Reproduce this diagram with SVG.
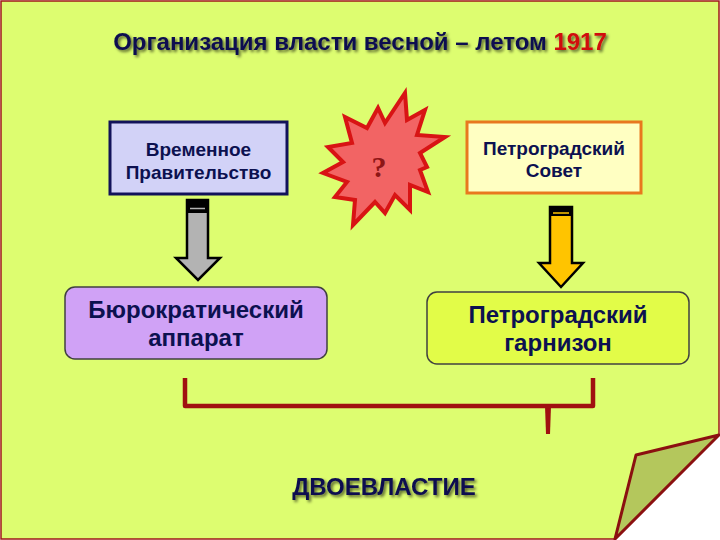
<svg xmlns="http://www.w3.org/2000/svg" width="720" height="540" viewBox="0 0 720 540">
<defs>
<style>
.t{font-family:"Liberation Sans",Arial,sans-serif;font-weight:bold;fill:#0C1150;text-anchor:middle}
.box{font-size:19px}
.big{font-size:24px}
.arr{stroke:#000;stroke-width:2.5;stroke-linejoin:miter}
</style>
<filter id="sh" x="-10%" y="-30%" width="120%" height="160%">
<feGaussianBlur in="SourceAlpha" stdDeviation="1.8"/>
<feOffset dx="1.5" dy="1.5" result="b"/>
<feFlood flood-color="#000" flood-opacity="0.6"/>
<feComposite in2="b" operator="in"/>
<feMerge><feMergeNode/><feMergeNode in="SourceGraphic"/></feMerge>
</filter>
</defs>
<rect width="720" height="540" fill="#fff"/>
<polygon points="1,1 719,1 719,435 615,539 1,539" fill="#DDFD70" stroke="#A01818" stroke-width="1.5"/>
<polygon points="719,435 636,455 615,539" fill="#B4C75C" stroke="#8B1010" stroke-width="3" stroke-linejoin="round"/>

<g id="title" filter="url(#sh)">
<text class="t" x="360" y="50" style="font-size:24px">Организация власти весной – летом <tspan fill="#D01010">1917</tspan></text>
</g>

<g id="vp">
<rect x="110" y="122" width="177" height="72" fill="#D2D2F7" stroke="#12125A" stroke-width="3"/>
<text class="t box" x="198.5" y="156">Временное</text>
<text class="t box" x="198.5" y="179">Правительство</text>
</g>

<g id="ps">
<rect x="467" y="122" width="174" height="71" fill="#FFFFC2" stroke="#E8781E" stroke-width="3"/>
<text class="t box" x="554" y="155">Петроградский</text>
<text class="t box" x="554" y="177">Совет</text>
</g>

<g id="burst">
<polygon points="405,93 407,120 425,110 417,135 445,137 420,153 427,167 420,170 428,192 410,185 410,210 395,195 385,213 375,202 353,225 355,200 335,197 347,182 323,173 343,162 328,147 352,143 345,117 367,128 378,108 385,123" fill="#F26464" stroke="#D81414" stroke-width="4" stroke-linejoin="miter"/>
<text x="379" y="177" font-family="Liberation Serif,serif" font-weight="bold" font-size="30" fill="#8E1616" text-anchor="middle">?</text>
</g>

<g id="ba">
<rect x="65" y="287" width="262" height="72" rx="10" fill="#D0A2F6" stroke="#404040" stroke-width="1.5"/>
<text class="t big" x="196" y="318">Бюрократический</text>
<text class="t big" x="196" y="346">аппарат</text>
</g>

<g id="pg">
<rect x="427" y="292" width="262" height="72" rx="10" fill="#E2FC48" stroke="#404040" stroke-width="1.5"/>
<text class="t big" x="558" y="323">Петроградский</text>
<text class="t big" x="558" y="351">гарнизон</text>
</g>

<g id="connectors">
<g id="a1">
<polygon class="arr" points="187,200 208,200 208,258 220,258 198,280 176,258 187,258" fill="#B3B3B3"/>
<rect x="187" y="200" width="21" height="13" fill="#000"/>
<line x1="190" y1="208.5" x2="205" y2="208.5" stroke="#B3B3B3" stroke-width="1.5"/>
</g>
<g id="a2">
<polygon class="arr" points="550,207 572,207 572,263 583,263 561,287 539,263 550,263" fill="#FFC400"/>
<rect x="550" y="207" width="22" height="9" fill="#000"/>
<line x1="553" y1="213" x2="569" y2="213" stroke="#FFC400" stroke-width="1.5"/>
</g>
<path d="M185,378 L185,406 L593,406 L593,378" fill="none" stroke="#A01010" stroke-width="4.5" stroke-linejoin="round"/>
<polygon points="545,406 551,406 550,434 546,434" fill="#A01010"/>
</g>

<g id="dv" filter="url(#sh)">
<text class="t" x="384" y="495" style="font-size:24px">ДВОЕВЛАСТИЕ</text>
</g>
</svg>
